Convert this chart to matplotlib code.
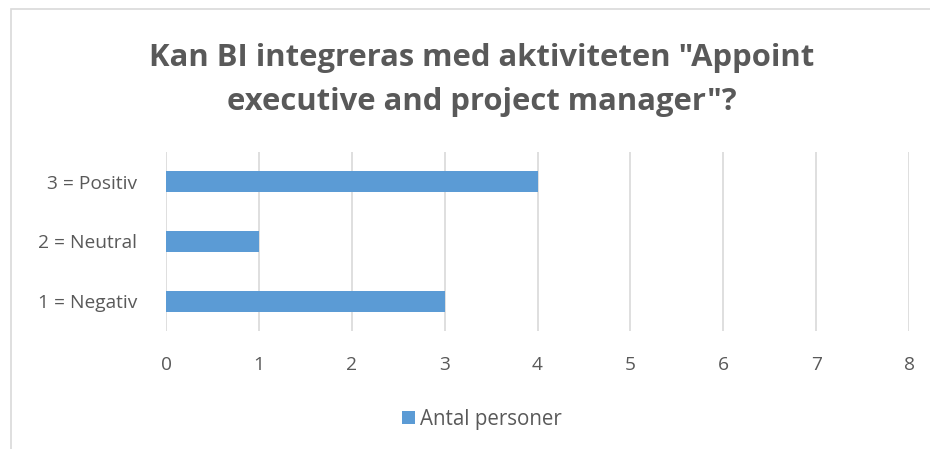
import matplotlib
matplotlib.use("Agg")
import matplotlib.pyplot as plt
from matplotlib.patches import Rectangle

categories = ["1 = Negativ", "2 = Neutral", "3 = Positiv"]
values = [3, 1, 4]
series_name = "Antal personer"
xticks = [0, 1, 2, 3, 4, 5, 6, 7, 8]
title = 'Kan BI integreras med aktiviteten "Appoint\nexecutive and project manager"?'

TXT = "#595959"
GRID = "#D9D9D9"
BAR = "#5B9BD5"

plt.rcParams["font.family"] = ["Open Sans", "DejaVu Sans"]

W, H = 930, 449
fig = plt.figure(figsize=(W / 100, H / 100), dpi=100)

# chart border
fig.patches.append(Rectangle((11 / W, -0.1), 1.2, 1 - 9 / H + 0.1, transform=fig.transFigure,
                             fill=False, edgecolor=GRID, linewidth=1.2))

ax = fig.add_axes([166 / W, 1 - 331 / H, (909 - 166) / W, (331 - 152) / H])
y = list(range(len(categories)))
ax.barh(y, values, height=0.35, color=BAR, label=series_name, zorder=3)
ax.set_xlim(0, 8)
ax.set_ylim(-0.5, 2.5)
ax.set_xticks(xticks)
ax.set_xticklabels([str(t) for t in xticks])
ax.set_yticks(y)
ax.set_yticklabels(categories)
ax.grid(axis="x", color=GRID, linewidth=1.2, zorder=0)
for s in ax.spines.values():
    s.set_visible(False)
ax.tick_params(length=0, colors=TXT, labelsize=13.8)
ax.tick_params(axis="x", pad=18)
ax.tick_params(axis="y", pad=21)

fig.text(482 / W, 1 - 80 / H, title, ha="center", va="center", fontsize=22.3,
         fontweight="bold", color=TXT, linespacing=1.62)

leg = fig.legend(loc="center", bbox_to_anchor=(482 / W, 1 - 419 / H), frameon=False,
                 fontsize=14.8, handlelength=0.62, handleheight=0.62, handletextpad=0.25)
for t in leg.get_texts():
    t.set_color(TXT)

fig.savefig("out.png", dpi=100)
